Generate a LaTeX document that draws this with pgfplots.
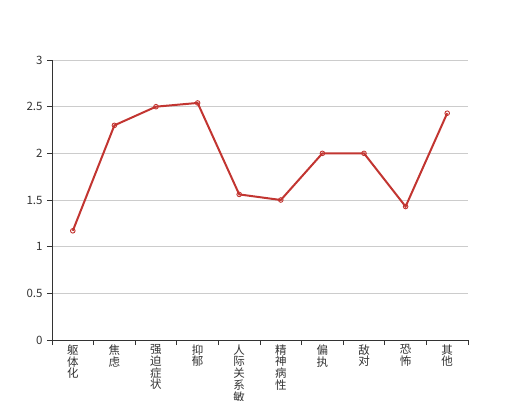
\documentclass[border=0pt]{standalone}
\usepackage{pgfplots}
\pgfplotsset{compat=1.18}
\usepackage{fontspec}
\setmainfont{Noto Sans CJK SC}
\definecolor{ecred}{HTML}{C23531}
\definecolor{gridc}{HTML}{CCCCCC}
\definecolor{axc}{HTML}{333333}
\begin{document}
\begin{tikzpicture}[x=1pt,y=1pt]
\clip (-52,-60) rectangle (468,340);
\begin{axis}[
  at={(0,0)}, anchor=south west,
  scale only axis, width=416pt, height=280pt,
  xmin=-0.5, xmax=9.5, ymin=0, ymax=3,
  axis lines=left, axis line style={-, draw=axc, line width=0.9pt},
  ytick={0,0.5,1,1.5,2,2.5,3},
  yticklabels={0,0.5,1,1.5,2,2.5,3},
  ymajorgrids, grid style={gridc, line width=0.8pt},
  xtick={-0.5,0.5,1.5,2.5,3.5,4.5,5.5,6.5,7.5,8.5,9.5},
  xticklabels={},
  extra x ticks={0,1,2,3,4,5,6,7,8,9},
  extra x tick labels={躯\\体\\化,焦\\虑,强\\迫\\症\\状,抑\\郁,人\\际\\关\\系\\敏\\感,精\\神\\病\\性,偏\\执,敌\\对,恐\\怖,其\\他},
  extra x tick style={major tick length=0pt, xmajorgrids=false, tick label style={align=center, anchor=north, yshift=-1pt, font=\fontsize{11.5}{11.8}\selectfont, text=axc}},
  tick align=outside, major tick length=5pt,
  tick style={draw=axc, line width=0.9pt},
  yticklabel style={font=\fontsize{11.5}{13}\selectfont, text=axc, xshift=-1pt},
  /pgf/number format/assume math mode=true,
  clip=false,
]
\addplot[ecred, line width=2pt, mark=o, mark size=2.3pt, mark options={fill=white, draw=ecred, line width=0.9pt}]
coordinates {(0,1.17) (1,2.30) (2,2.50) (3,2.54) (4,1.56) (5,1.50) (6,2.00) (7,2.00) (8,1.43) (9,2.43)};
\end{axis}
\end{tikzpicture}
\end{document}
